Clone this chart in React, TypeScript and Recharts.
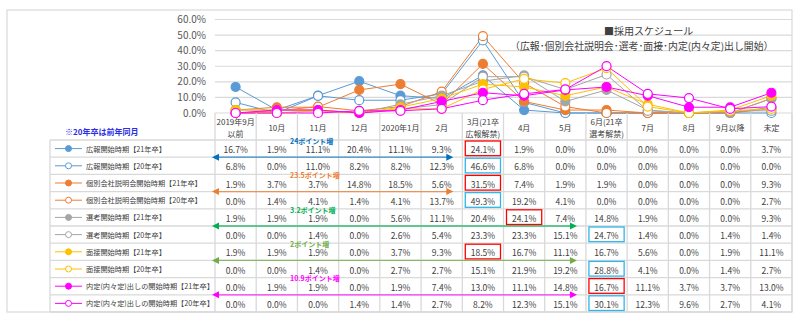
import React from 'react';
import { LineChart, Line, XAxis, YAxis, CartesianGrid } from 'recharts';

const months = ['2019年9月\n以前', '10月', '11月', '12月', '2020年1月', '2月', '3月(21卒\n広報解禁)', '4月', '5月', '6月(21卒\n選考解禁)', '7月', '8月', '9月以降', '未定'];

const koho21 = [16.7, 1.9, 11.1, 20.4, 11.1, 9.3, 24.1, 1.9, 0.0, 0.0, 0.0, 0.0, 0.0, 3.7];
const koho20 = [6.8, 0.0, 11.0, 8.2, 8.2, 12.3, 46.6, 6.8, 0.0, 0.0, 0.0, 0.0, 0.0, 0.0];
const setsumei21 = [1.9, 3.7, 3.7, 14.8, 18.5, 5.6, 31.5, 7.4, 1.9, 1.9, 0.0, 0.0, 0.0, 9.3];
const setsumei20 = [0.0, 1.4, 4.1, 1.4, 4.1, 13.7, 49.3, 19.2, 4.1, 0.0, 0.0, 0.0, 0.0, 2.7];
const senko21 = [1.9, 1.9, 1.9, 0.0, 5.6, 11.1, 20.4, 24.1, 7.4, 14.8, 1.9, 0.0, 0.0, 9.3];
const senko20 = [0.0, 0.0, 1.4, 0.0, 2.6, 5.4, 23.3, 23.3, 15.1, 24.7, 1.4, 0.0, 1.4, 1.4];
const mensetsu21 = [1.9, 1.9, 1.9, 0.0, 3.7, 9.3, 18.5, 16.7, 11.1, 16.7, 5.6, 0.0, 1.9, 11.1];
const mensetsu20 = [0.0, 0.0, 1.4, 0.0, 2.7, 2.7, 15.1, 21.9, 19.2, 28.8, 4.1, 0.0, 1.4, 2.7];
const naitei21 = [0.0, 1.9, 1.9, 0.0, 1.9, 7.4, 13.0, 11.1, 14.8, 16.7, 11.1, 3.7, 3.7, 13.0];
const naitei20 = [0.0, 0.0, 0.0, 1.4, 1.4, 2.7, 8.2, 12.3, 15.1, 30.1, 12.3, 9.6, 2.7, 4.1];

const yTicks = [0, 10, 20, 30, 40, 50, 60];

const series = [
  { key: 's0', name: '広報開始時期【21年卒】', values: koho21, color: '#5B9BD5', filled: true },
  { key: 's1', name: '広報開始時期【20年卒】', values: koho20, color: '#5B9BD5', filled: false },
  { key: 's2', name: '個別会社説明会開始時期【21年卒】', values: setsumei21, color: '#ED7D31', filled: true },
  { key: 's3', name: '個別会社説明会開始時期【20年卒】', values: setsumei20, color: '#ED7D31', filled: false },
  { key: 's4', name: '選考開始時期【21年卒】', values: senko21, color: '#A5A5A5', filled: true },
  { key: 's5', name: '選考開始時期【20年卒】', values: senko20, color: '#A5A5A5', filled: false },
  { key: 's6', name: '面接開始時期【21年卒】', values: mensetsu21, color: '#FFC000', filled: true },
  { key: 's7', name: '面接開始時期【20年卒】', values: mensetsu20, color: '#FFC000', filled: false },
  { key: 's8', name: '内定(内々定)出しの開始時期【21年卒】', values: naitei21, color: '#FF00FF', filled: true },
  { key: 's9', name: '内定(内々定)出しの開始時期【20年卒】', values: naitei20, color: '#FF00FF', filled: false },
];

// highlighted cells [row, col]
const redCells = [[0, 6], [2, 6], [4, 7], [6, 6], [8, 9]];
const cyanCells = [[1, 6], [3, 6], [5, 9], [7, 9], [9, 9]];

// point-increase notes: arrow sits under row, ends before column
const notes = [
  { text: '24ポイント増', row: 0, toCol: 6, color: '#0070C0' },
  { text: '23.5ポイント増', row: 2, toCol: 6, color: '#ED7D31' },
  { text: '3.2ポイント増', row: 4, toCol: 9, color: '#00B050' },
  { text: '2ポイント増', row: 6, toCol: 9, color: '#70AD47' },
  { text: '10.9ポイント増', row: 8, toCol: 9, color: '#FF00FF' },
];

const data = months.map((m, i) => {
  const row: any = { i, month: m };
  series.forEach((s) => { row[s.key] = s.values[i]; });
  return row;
});

const FONT = '"Noto Sans CJK JP", "Noto Sans", sans-serif';
const PLOT_L = 215;
const PLOT_R = 792;
const COL_W = (PLOT_R - PLOT_L) / months.length;
const HEAD_TOP = 113;
const ROW_TOP = 140;
const ROW_H = 17.2;
const LEG_L = 50;
const GRID = '#D9D9D9';
const TXT = '#404040';

const Table = () => {
  const bottom = ROW_TOP + ROW_H * series.length;
  return (
    <svg width={800} height={323} style={{ position: 'absolute', left: 0, top: 0, pointerEvents: 'none' }} fontFamily={FONT}>
      <rect x={7} y={10} width={785} height={302} fill="none" stroke={GRID} strokeWidth={1.2} />
      {months.map((_, c) => (
        <line key={'v' + c} x1={PLOT_L + c * COL_W} x2={PLOT_L + c * COL_W} y1={HEAD_TOP} y2={bottom} stroke={GRID} strokeWidth={1.3} />
      ))}
      <line x1={PLOT_R} x2={PLOT_R} y1={HEAD_TOP} y2={bottom} stroke={GRID} strokeWidth={1.3} />
      <line x1={LEG_L} x2={LEG_L} y1={ROW_TOP} y2={bottom} stroke={GRID} strokeWidth={1.3} />
      {series.map((_, r) => (
        <line key={'h' + r} x1={LEG_L} x2={PLOT_R} y1={ROW_TOP + r * ROW_H} y2={ROW_TOP + r * ROW_H} stroke={GRID} strokeWidth={1.3} />
      ))}
      <line x1={LEG_L} x2={PLOT_R} y1={bottom} y2={bottom} stroke={GRID} strokeWidth={1.3} />
      {months.map((m, c) => {
        const lines = m.split('\n');
        const cx = PLOT_L + (c + 0.5) * COL_W;
        return lines.length === 1 ? (
          <text key={'m' + c} x={cx} y={127} textAnchor="middle" dominantBaseline="central" fontSize={8} fill={TXT}>{m}</text>
        ) : (
          <g key={'m' + c}>
            <text x={cx} y={121} textAnchor="middle" dominantBaseline="central" fontSize={8} fill={TXT}>{lines[0]}</text>
            <text x={cx} y={133} textAnchor="middle" dominantBaseline="central" fontSize={8} fill={TXT}>{lines[1]}</text>
          </g>
        );
      })}
      <text x={65} y={131} dominantBaseline="central" fontSize={8} fontWeight="bold" fill="#2E2EE6">※20年卒は前年同月</text>
      {series.map((s, r) => {
        const cy = ROW_TOP + (r + 0.5) * ROW_H;
        return (
          <g key={'r' + r}>
            <line x1={55} x2={82} y1={cy} y2={cy} stroke={s.color} strokeWidth={1} />
            <circle cx={68.5} cy={cy} r={3} fill={s.filled ? s.color : '#fff'} stroke={s.color} strokeWidth={1} />
            <text x={86} y={cy} dominantBaseline="central" fontSize={7.2} fill={TXT}>{s.name}</text>
            {s.values.map((v, c) => (
              <text key={c} x={PLOT_L + (c + 0.5) * COL_W} y={cy + 0.5} textAnchor="middle" dominantBaseline="central" fontSize={8.5} fill={TXT}>{v.toFixed(1) + '%'}</text>
            ))}
          </g>
        );
      })}
      {redCells.map(([r, c], k) => (
        <rect key={'rc' + k} x={PLOT_L + c * COL_W + 3} y={ROW_TOP + r * ROW_H + 1} width={COL_W - 6} height={ROW_H - 2.5} fill="none" stroke="#FF0000" strokeWidth={1.3} />
      ))}
      {cyanCells.map(([r, c], k) => (
        <rect key={'cc' + k} x={PLOT_L + c * COL_W + 3} y={ROW_TOP + r * ROW_H + 1} width={COL_W - 6} height={ROW_H - 2.5} fill="none" stroke="#2FB5EA" strokeWidth={1.3} />
      ))}
      {notes.map((n, k) => {
        const y = ROW_TOP + (n.row + 1) * ROW_H;
        const x1 = 212;
        const x2 = PLOT_L + n.toCol * COL_W - 9;
        return (
          <g key={'n' + k}>
            <line x1={x1 + 5} x2={x2 - 5} y1={y} y2={y} stroke={n.color} strokeWidth={1.3} opacity={0.75} />
            <polygon points={`${x1},${y} ${x1 + 7},${y - 3.5} ${x1 + 7},${y + 3.5}`} fill={n.color} />
            <polygon points={`${x2},${y} ${x2 - 7},${y - 3.5} ${x2 - 7},${y + 3.5}`} fill={n.color} />
            <text x={290} y={y - 16.5} dominantBaseline="central" fontSize={7} fontWeight="bold" fill={n.color}>{n.text}</text>
          </g>
        );
      })}
      <text x={604} y={30} dominantBaseline="central" fontSize={10} fill={TXT}>■採用スケジュール</text>
      <text x={510} y={46} dominantBaseline="central" fontSize={9.9} fill={TXT}>（広報･個別会社説明会･選考･面接･内定(内々定)出し開始）</text>
    </svg>
  );
};

export default function App() {
  return (
    <div style={{ position: 'absolute', left: 0, top: 0, width: 800, height: 323, background: '#fff', fontFamily: FONT }}>
      <LineChart width={800} height={323} data={data} margin={{ top: 19.5, right: 8, bottom: 210, left: 0 }}>
        <CartesianGrid horizontal vertical={false} stroke={GRID} strokeWidth={1.2} />
        <XAxis dataKey="i" type="number" domain={[-0.5, 13.5]} hide />
        <YAxis
          width={215}
          domain={[0, 60]}
          ticks={yTicks}
          interval={0}
          axisLine={false}
          tickLine={false}
          tickMargin={3}
          tick={{ fontSize: 10, fill: '#595959', fontFamily: FONT }}
          tickFormatter={(v: number) => v.toFixed(1) + '%'}
        />
        {series.map((s) => (
          <Line
            key={s.key}
            dataKey={s.key}
            name={s.name}
            stroke={s.color}
            strokeWidth={1}
            dot={{ r: 4.5, fill: s.filled ? s.color : '#fff', stroke: s.color, strokeWidth: 1.2 }}
            activeDot={false}
            isAnimationActive={false}
          />
        ))}
      </LineChart>
      <Table />
    </div>
  );
}
